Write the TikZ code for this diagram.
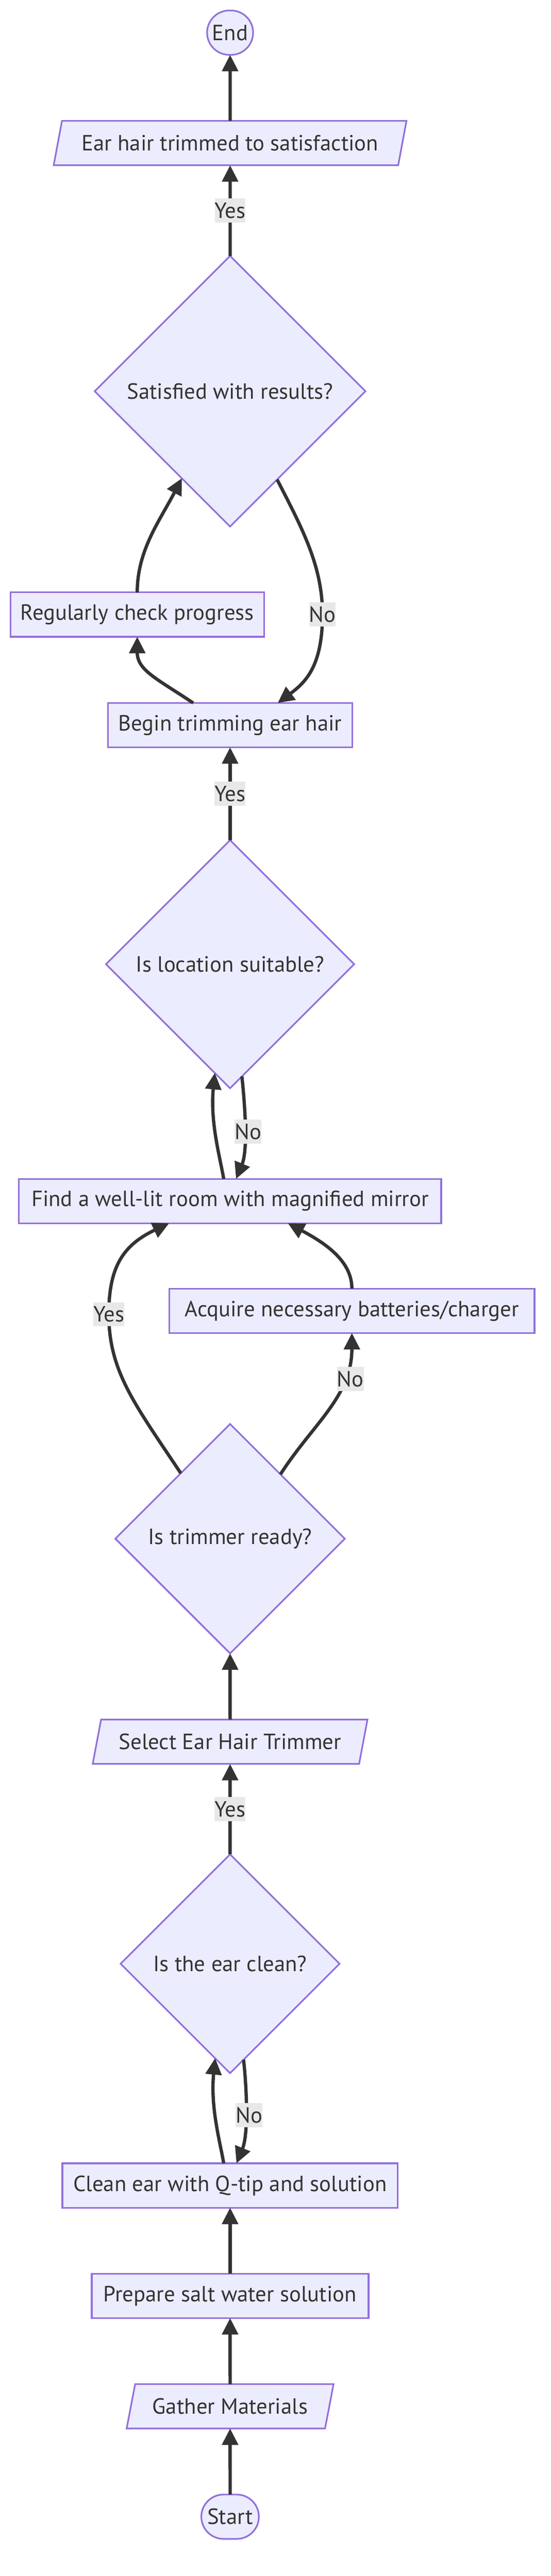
\documentclass[tikz,border=0pt]{standalone}
\usepackage{fontspec}
\setmainfont{PT Sans}
\usetikzlibrary{shapes.geometric,shapes.misc,arrows.meta,positioning}
\definecolor{nodefill}{HTML}{ECECFF}
\definecolor{nodeline}{HTML}{9370DB}
\definecolor{edgeline}{HTML}{333333}
\definecolor{labelfill}{HTML}{E8E8E8}

\begin{document}
\begin{tikzpicture}[x=1pt, y=1pt, node distance=40.2pt]
    \tikzstyle{block} = [rectangle, draw=nodeline, fill=nodefill, line width=1pt,
               text=edgeline, minimum height=27pt, inner xsep=6pt, inner ysep=0pt,
               outer sep=0pt, font=\fontsize{13.4}{15}\selectfont]
    \tikzstyle{iobox} = [block, trapezium, trapezium left angle=63.8,
               trapezium right angle=116.2, trapezium stretches=true]
    \tikzstyle{decision} = [block, diamond, aspect=1, inner sep=0pt]
    \tikzstyle{terminal} = [block, rounded rectangle]
    \tikzstyle{flow} = [draw=edgeline, line width=2pt, -{Triangle[length=10pt,width=9.6pt]}]
    \tikzstyle{lbl} = [fill=labelfill, text=edgeline, inner sep=0pt, minimum height=14.7pt,
               font=\fontsize{13.4}{15}\selectfont]

    \useasboundingbox (0,0) rectangle (335.06,-1568);

    % Main column, bottom to top
    \node[terminal, minimum width=47pt] (start) at (140,-1531.9) {Start};
    \node[iobox, minimum width=126.1pt, above=of start] (gather) {Gather Materials};
    \node[block, minimum width=168.4pt, above=of gather] (prepare) {Prepare salt water solution};
    \node[block, minimum width=204.1pt, above=of prepare] (clean) {Clean ear with Q-tip and solution};
    \node[decision, minimum size=133.2pt, above=54.9pt of clean] (earclean) {Is the ear clean?};
    \node[iobox, minimum width=167.5pt, above=55pt of earclean] (select) {Select Ear Hair Trimmer};
    \node[decision, minimum size=139.6pt, above=40.3pt of select] (ready) {Is trimmer ready?};
    \node[block, minimum width=256.9pt, above=122.2pt of ready] (find) {Find a well-lit room with magnified mirror};
    \node[decision, minimum size=151pt, above=55.2pt of find] (location) {Is location suitable?};
    \node[block, minimum width=148.7pt, above=56.5pt of location] (begintrim) {Begin trimming ear hair};
    \node[decision, minimum size=164.7pt, above=107.4pt of begintrim] (satisfied) {Satisfied with results?};
    \node[iobox, minimum width=214.9pt, above=55.2pt of satisfied] (trimmed) {Ear hair trimmed to satisfaction};
    \node[terminal, minimum width=40pt, above=of trimmed] (stop) {End};

    % Side steps
    \node[block, minimum width=222.2pt] (acquire) at (214.1,-797.9) {Acquire necessary batteries/charger};
    \node[block, minimum width=154.3pt] (check) at (83.5,-374.1) {Regularly check progress};

    % Connectors
    \draw[flow] (start) -- (gather);
    \draw[flow] (gather) -- (prepare);
    \draw[flow] (prepare) -- (clean);
    \draw[flow] (clean.106.6) .. controls +(-2.4,13.7) and +(-2.9,-29.8) .. (earclean.261.8);
    \draw[flow] (earclean.278.2) .. controls +(2.4,-22.8) and +(6.9,16.7) .. (clean.74.6)
        node[lbl, pos=.5, xshift=2pt] {No};
    \draw[flow] (earclean) -- node[lbl] {Yes} (select);
    \draw[flow] (select) -- (ready);
    \draw[flow] (ready.127.3) .. controls +(-27.6,41.6) and +(0,-35) .. (66.2,-800)
        node[lbl] {Yes} .. controls +(0,28) and +(-28.7,-13.6) .. (find.200.9);
    \draw[flow] (ready.52.7) .. controls +(20,31) and +(0,-38.6) .. (acquire.south)
        node[lbl, pos=.72, xshift=4pt] {No};
    \draw[flow] (acquire.north) .. controls +(0,16.4) and +(23.7,-12.6) .. (find.339.7);
    \draw[flow] (find.106.9) .. controls +(-2.4,13.7) and +(-2.9,-29.8) .. (location.262.9);
    \draw[flow] (location.276.7) .. controls +(2.4,-22.8) and +(6.9,16.7) .. (find.75)
        node[lbl, pos=.5, xshift=2pt] {No};
    \draw[flow] (location) -- node[lbl] {Yes} (begintrim);
    \draw[flow] (begintrim.149.6) .. controls +(-22.1,14.8) and +(0,-20.4) .. (check.south);
    \draw[flow] (check.north) .. controls +(0,25.6) and +(-13.7,-26.3) .. (satisfied.241.4);
    \draw[flow] (satisfied.298.5) .. controls +(15.8,-30.6) and +(0,29) .. (196.2,-374)
        node[lbl] {No} .. controls +(0,-31) and +(17.3,12.8) .. (begintrim.25.9);
    \draw[flow] (satisfied) -- node[lbl] {Yes} (trimmed);
    \draw[flow] (trimmed) -- (stop);
\end{tikzpicture}
\end{document}
